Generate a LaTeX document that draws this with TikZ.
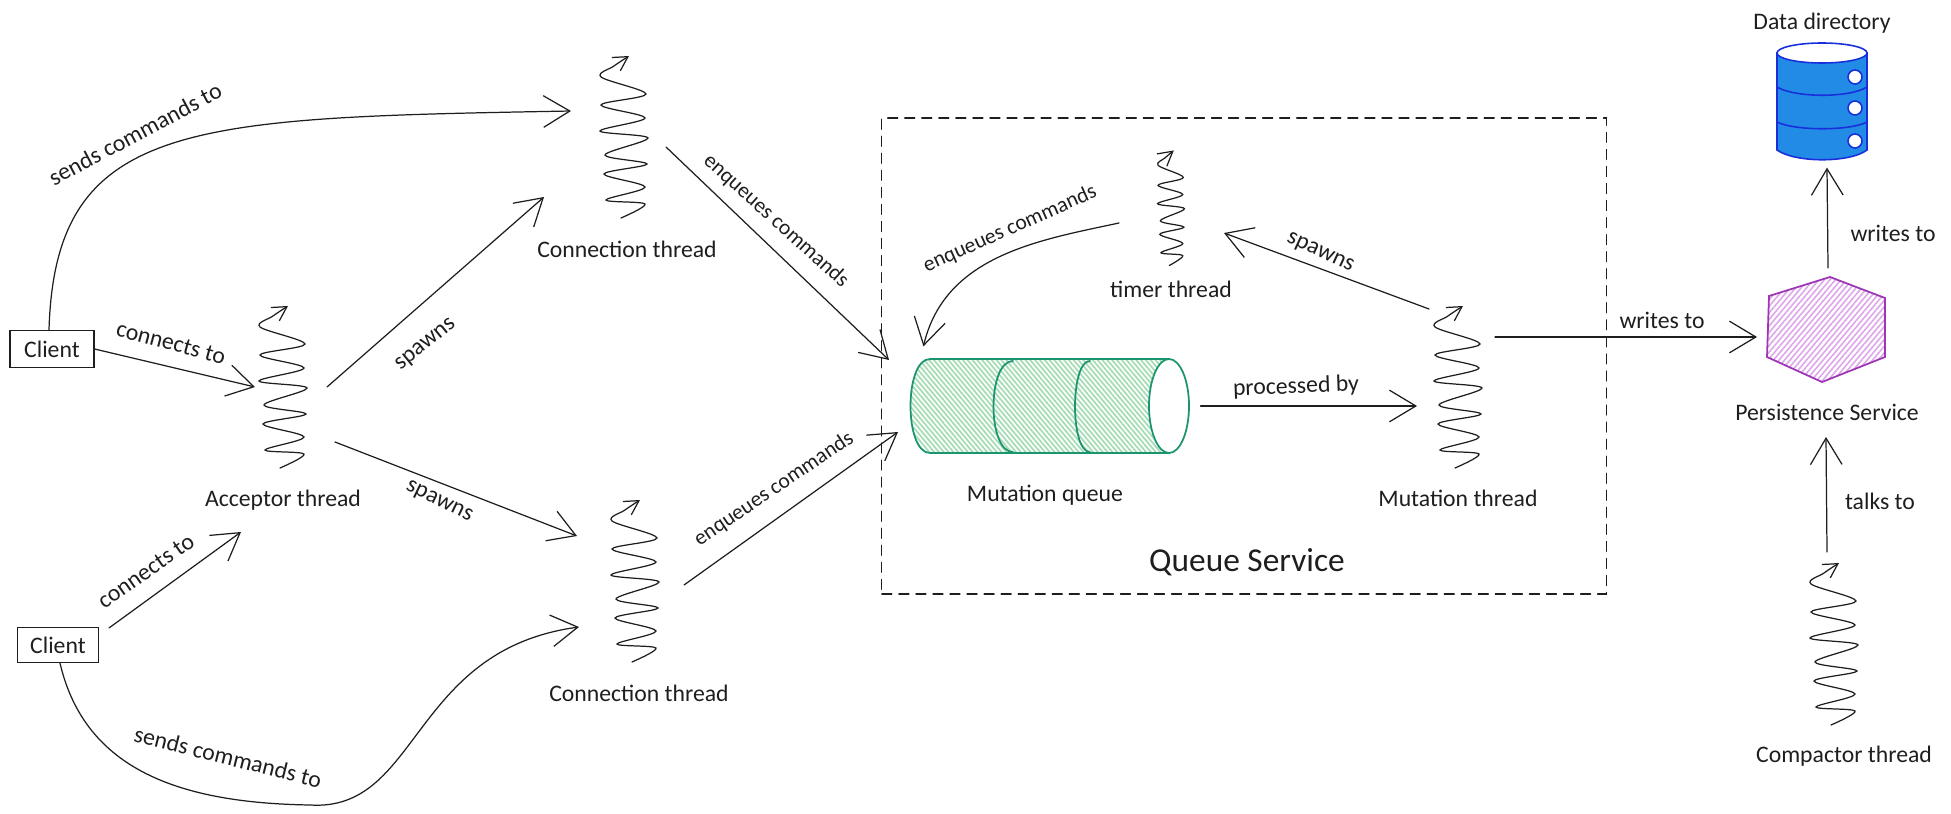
\documentclass[tikz,border=0pt]{standalone}
\usepackage{fontspec}
\setmainfont{Carlito}
\usetikzlibrary{arrows.meta, positioning, patterns.meta}
\definecolor{ink}{HTML}{1E1E1E}
\definecolor{queue_line}{HTML}{1C9470}
\definecolor{queue_hatch}{HTML}{A6DCB4}
\definecolor{persist_line}{HTML}{9C36B5}
\definecolor{persist_hatch}{HTML}{DDA6EA}
\definecolor{data_line}{HTML}{1A2FDC}
\definecolor{data_fill}{HTML}{228BE6}
\tikzset{
	thread coil/.pic={
		\draw[ink,line width=0.7pt,-{Straight Barb[length=8pt,width=9pt]}] plot[smooth,tension=0.55] coordinates {
			(-3,81) (21,67) (-18,63) (21,50) (-20,37) (23,27) (-19,18) (24,1)
			(-24,-6) (21,-19) (-23,-32) (22,-43) (-23,-60) (-10,-71) (5,-81)};
	}
}
\begin{document}
\begin{tikzpicture}[x=0.02cm,y=-0.02cm,->,>={Straight Barb[length=15pt,width=18pt]},
		line width=0.7pt,draw=ink,line cap=round,node distance=3mm,
		thread node/.style={minimum width=1cm,minimum height=3.22cm,inner sep=0pt},
		box node/.style={draw,rectangle,inner sep=0pt},
		title/.style={font=\fontsize{13.5}{15}\selectfont,text=ink,inner sep=1pt},
		small title/.style={title,font=\fontsize{12.3}{14}\selectfont},
		queue shape/.style={-,draw=queue_line,line width=1pt},
		data shape/.style={-,draw=data_line,line width=0.9pt}]
		\useasboundingbox (0,0) rectangle (1951,814);

		%% Nodes
		\begin{scope}
			\node (queue_service) at (1244,356) [box node,dashed,dash pattern=on 5.7pt off 4pt,minimum width=14.49cm,minimum height=9.52cm] {};
			\node (queue_service_title) at (1247,562) [title,font=\fontsize{19}{21}\selectfont] {Queue Service};
		\end{scope}

		% Clients
		\begin{scope}
			\node (client_a) at (52,349) [box node,minimum width=1.68cm,minimum height=0.73cm,title] {Client};
			\node (client_b) at (58,645) [box node,minimum width=1.62cm,minimum height=0.7cm,title] {Client};
		\end{scope}

		% Threads
		\begin{scope}
			\node (acceptor) at (283,387) [thread node] {};
			\node (conn_a) at (624,137) [thread node] {};
			\node (conn_b) at (635,581) [thread node] {};
			\node (timer) at (1171,208) [thread node,minimum width=0.54cm,minimum height=2.3cm] {};
			\node (mutation) at (1458,387) [thread node] {};
			\node (compactor) at (1834,644) [thread node] {};
			\pic at (acceptor.center) {thread coil};
			\pic at (conn_a.center) {thread coil};
			\pic at (conn_b.center) {thread coil};
			\pic[xscale=0.56,yscale=0.71] at (timer.center) {thread coil};
			\pic at (mutation.center) {thread coil};
			\pic at (compactor.center) {thread coil};

			\node (acceptor_title) [title,below = 4mm of acceptor] {Acceptor thread};
			\node (conn_a_title) [title,below = 4.2mm of conn_a,xshift=0.6mm] {Connection thread};
			\node (conn_b_title) [title,below = 4.2mm of conn_b,xshift=0.8mm] {Connection thread};
			\node (timer_title) [title,below = 2.6mm of timer] {timer thread};
			\node (mutation_title) [title,below = 4mm of mutation] {Mutation thread};
			\node (compactor_title) [title,below = 3.8mm of compactor,xshift=2mm] {Compactor thread};
		\end{scope}

		% Mutation queue
		\begin{scope}
			\node (queue) at (1050,406) [minimum width=5.6cm,minimum height=1.88cm,inner sep=0pt] {};
			\draw[queue shape,pattern={Lines[angle=-50,distance=2.1pt,line width=1pt]},pattern color=queue_hatch]
				(930,359) .. controls (904,359) and (904,453) .. (930,453) -- (1169,453) -- (1169,359) -- cycle;
			\draw[queue shape] (1013,361) .. controls (987,361) and (987,452) .. (1013,452);
			\draw[queue shape] (1090,361) .. controls (1070,361) and (1070,452) .. (1090,452);
			\draw[queue shape,fill=white] (1169,406) ellipse [x radius=20,y radius=47];
			\node (queue_title) at (1045,495) [title] {Mutation queue};
		\end{scope}

		% Persistence service
		\begin{scope}
			\node (persist) at (1826,329) [minimum width=2.32cm,minimum height=2.1cm,inner sep=0pt] {};
			\draw[-,draw=persist_line,line width=1pt,pattern={Lines[angle=50,distance=2.4pt,line width=0.9pt]},pattern color=persist_hatch]
				(1830,277) -- (1885,298) -- (1885,357) -- (1822,382) -- (1767,357) -- (1769,296) -- cycle;
			\node (persist_title) at (1827,412) [title] {Persistence Service};
		\end{scope}

		% Data directory
		\begin{scope}
			\node (data) at (1822,101) [minimum width=1.8cm,minimum height=2.32cm,inner sep=0pt] {};
			\draw[data shape,fill=data_fill] (1777,53) -- (1777,150) .. controls (1795,163) and (1850,163) .. (1867,150) -- (1867,53) -- cycle;
			\draw[data shape,fill=white] (1822,53) ellipse [x radius=45,y radius=10];
			\draw[data shape] (1777,87) .. controls (1795,98) and (1850,98) .. (1867,87);
			\draw[data shape] (1777,122) .. controls (1795,131) and (1850,131) .. (1867,122);
			\draw[data shape,fill=white] (1855,77) circle [radius=7];
			\draw[data shape,fill=white] (1855,108) circle [radius=7];
			\draw[data shape,fill=white] (1855,141) circle [radius=7];
			\node (data_title) at (1822,23) [title] {Data directory};
		\end{scope}

		%% Edge labels
		\node (sends_a) at (135,134) [title,rotate=28] {sends commands to};
		\node (connects_a) at (171,343) [title,rotate=-15] {connects to};
		\node (connects_b) at (146,571) [title,rotate=35] {connects to};
		\node (sends_b) at (228,757) [title,rotate=-14] {sends commands to};
		\node (spawns_a) at (426,345) [title,rotate=39] {spawns};
		\node (spawns_b) at (439,502) [title,rotate=-26] {spawns};
		\node (enqueues_a) at (776,221) [small title,rotate=-42] {enqueues commands};
		\node (enqueues_b) at (774,489) [small title,rotate=34] {enqueues commands};
		\node (enqueues_c) at (1010,229) [small title,rotate=24] {enqueues commands};
		\node (spawns_c) at (1320,253) [title,rotate=-25] {spawns};
		\node (processed) at (1296,387) [title,rotate=2] {processed by};
		\node (writes_a) at (1662,320) [title] {writes to};
		\node (writes_b) at (1893,233) [title] {writes to};
		\node (talks) at (1880,501) [title] {talks to};

		%% Edges
		\draw (client_a.east) -- ([shift={(-28,0)}]acceptor.center);
		\draw ([shift={(10,1)}]client_b.north east) -- ([shift={(-42,145)}]acceptor.center);
		\draw ([shift={(-3,0)}]client_a.north) .. controls (55,120) and (190,118) .. ([shift={(-53,-26)}]conn_a.center);
		\draw ([shift={(2,0)}]client_b.south) .. controls (85,770) and (180,803) .. (310,805)
			.. controls (420,812) and (410,650) .. ([shift={(-56,46)}]conn_b.center);

		\draw ([shift={(44,0)}]acceptor.center) -- ([shift={(-80,60)}]conn_a.center);
		\draw ([shift={(52,55)}]acceptor.center) -- ([shift={(-58,-45)}]conn_b.center);

		\draw ([shift={(42,10)}]conn_a.center) -- ([shift={(-161,-46)}]queue.center);
		\draw ([shift={(49,4)}]conn_b.center) -- ([shift={(-152,26)}]queue.center);
		\draw ([shift={(-52,15)}]timer.center) .. controls (1040,240) and (945,255) .. ([shift={(14,-12)}]queue.north west);

		\draw ([shift={(10,0)}]queue.east) -- ([shift={(-41,19)}]mutation.center);
		\draw ([shift={(-29,-78)}]mutation.center) -- ([shift={(53,25)}]timer.center);
		\draw ([shift={(37,-50)}]mutation.center) -- ([shift={(-69,8)}]persist.center);

		\draw ([shift={(2,-8)}]persist.north) -- ([shift={(5,8)}]data.south);
		\draw ([shift={(-7,-92)}]compactor.center) -- ([shift={(0,108)}]persist.center);
	\end{tikzpicture}
\end{document}
